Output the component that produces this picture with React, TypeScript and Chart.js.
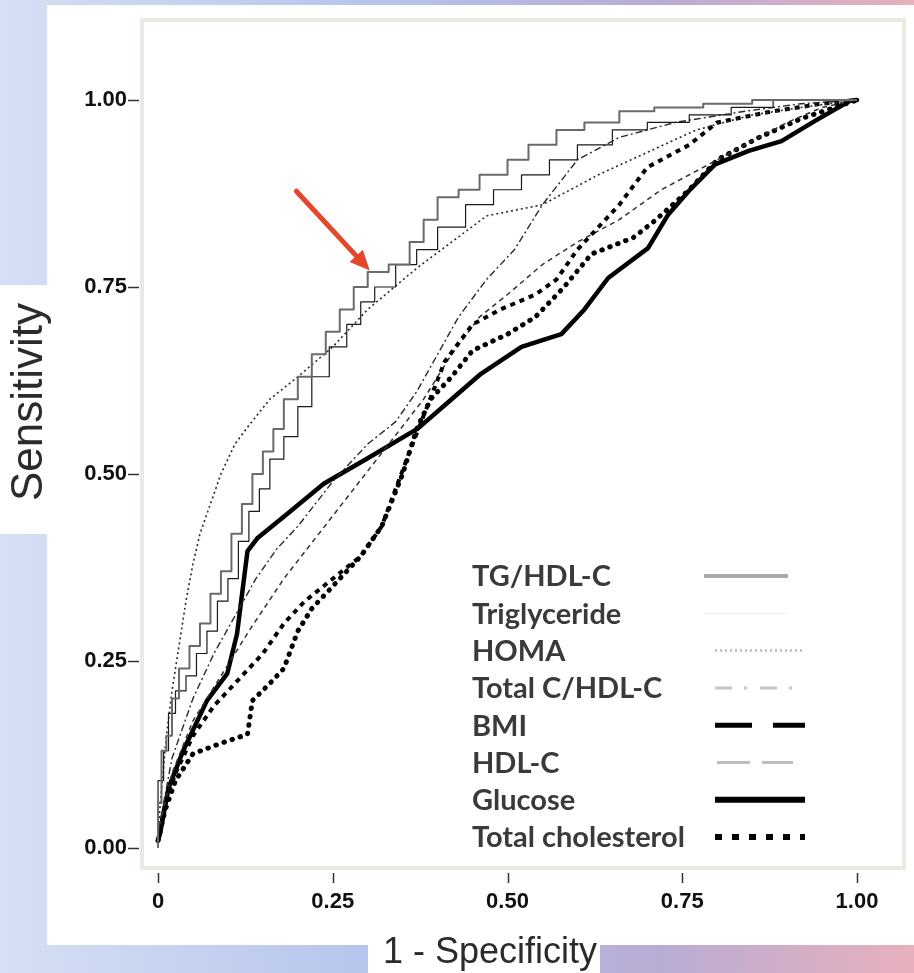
import React, { useEffect, useRef } from "react";
import { Chart, registerables } from "chart.js";

Chart.register(...registerables);

const seriesNames = [
  "TG/HDL-C",
  "Triglyceride",
  "HOMA",
  "Total C/HDL-C",
  "BMI",
  "HDL-C",
  "Glucose",
  "Total cholesterol",
];

const tgHdlFpr = [0, 0.005, 0.012, 0.02, 0.03, 0.045, 0.06, 0.075, 0.09, 0.105, 0.12, 0.135, 0.15, 0.165, 0.18, 0.2, 0.22, 0.24, 0.26, 0.28, 0.3, 0.33, 0.36, 0.38, 0.4, 0.43, 0.46, 0.5, 0.53, 0.57, 0.61, 0.66, 0.71, 0.78, 0.85, 0.92, 1];
const tgHdlSens = [0, 0.06, 0.13, 0.15, 0.2, 0.24, 0.27, 0.3, 0.34, 0.37, 0.42, 0.46, 0.5, 0.53, 0.56, 0.6, 0.63, 0.66, 0.69, 0.72, 0.75, 0.77, 0.78, 0.81, 0.84, 0.87, 0.88, 0.9, 0.92, 0.94, 0.96, 0.97, 0.985, 0.99, 0.995, 1, 1];

const trigFpr = [0, 0.008, 0.015, 0.025, 0.04, 0.055, 0.07, 0.085, 0.1, 0.115, 0.13, 0.145, 0.16, 0.18, 0.2, 0.22, 0.245, 0.27, 0.29, 0.31, 0.34, 0.37, 0.4, 0.44, 0.48, 0.52, 0.56, 0.6, 0.65, 0.7, 0.76, 0.82, 0.88, 0.94, 1];
const trigSens = [0, 0.09, 0.13, 0.18, 0.21, 0.23, 0.26, 0.29, 0.33, 0.36, 0.41, 0.45, 0.48, 0.52, 0.55, 0.59, 0.63, 0.67, 0.7, 0.73, 0.75, 0.78, 0.8, 0.83, 0.86, 0.88, 0.9, 0.92, 0.94, 0.96, 0.97, 0.98, 0.99, 1, 1];

const homaFpr = [0, 0.005, 0.012, 0.02, 0.03, 0.04, 0.05, 0.06, 0.075, 0.09, 0.11, 0.13, 0.16, 0.2, 0.25, 0.3, 0.37, 0.42, 0.47, 0.55, 0.63, 0.7, 0.77, 0.85, 0.92, 1];
const homaSens = [0.02, 0.08, 0.15, 0.21, 0.27, 0.33, 0.38, 0.42, 0.46, 0.5, 0.54, 0.565, 0.6, 0.63, 0.67, 0.72, 0.775, 0.81, 0.845, 0.86, 0.9, 0.93, 0.96, 0.98, 0.99, 1];

const tcHdlFpr = [0, 0.02, 0.05, 0.08, 0.11, 0.14, 0.17, 0.2, 0.25, 0.3, 0.34, 0.37, 0.4, 0.43, 0.47, 0.51, 0.55, 0.6, 0.66, 0.74, 0.84, 0.92, 1];
const tcHdlSens = [0.02, 0.12, 0.2, 0.26, 0.31, 0.36, 0.4, 0.43, 0.49, 0.54, 0.57, 0.61, 0.66, 0.71, 0.76, 0.8, 0.86, 0.92, 0.95, 0.97, 0.985, 0.995, 1];

const bmiFpr = [0, 0.01, 0.025, 0.05, 0.08, 0.11, 0.15, 0.18, 0.21, 0.25, 0.29, 0.32, 0.34, 0.36, 0.385, 0.41, 0.45, 0.49, 0.54, 0.57, 0.6, 0.62, 0.66, 0.7, 0.76, 0.8, 0.88, 0.95, 1];
const bmiSens = [0.01, 0.06, 0.1, 0.15, 0.19, 0.22, 0.26, 0.3, 0.33, 0.36, 0.39, 0.43, 0.48, 0.53, 0.59, 0.65, 0.7, 0.72, 0.74, 0.76, 0.8, 0.82, 0.86, 0.91, 0.94, 0.97, 0.985, 0.995, 1];

const hdlFpr = [0, 0.02, 0.05, 0.09, 0.13, 0.18, 0.23, 0.28, 0.33, 0.38, 0.42, 0.46, 0.5, 0.55, 0.6, 0.66, 0.72, 0.78, 0.84, 0.9, 0.95, 1];
const hdlSens = [0.02, 0.1, 0.17, 0.23, 0.29, 0.36, 0.42, 0.48, 0.54, 0.6, 0.66, 0.71, 0.74, 0.78, 0.81, 0.84, 0.88, 0.91, 0.94, 0.97, 0.99, 1];

const glucoseFpr = [0, 0.003, 0.015, 0.036, 0.07, 0.099, 0.113, 0.128, 0.142, 0.189, 0.237, 0.3, 0.372, 0.42, 0.462, 0.52, 0.577, 0.61, 0.644, 0.701, 0.73, 0.759, 0.797, 0.845, 0.892, 0.94, 0.99, 1];
const glucoseSens = [0.01, 0.02, 0.08, 0.13, 0.197, 0.233, 0.286, 0.397, 0.414, 0.45, 0.487, 0.521, 0.561, 0.6, 0.634, 0.67, 0.687, 0.72, 0.762, 0.802, 0.847, 0.878, 0.914, 0.932, 0.945, 0.972, 0.999, 1];

const totalCholFpr = [0, 0.01, 0.025, 0.05, 0.09, 0.128, 0.135, 0.16, 0.18, 0.2, 0.22, 0.25, 0.29, 0.32, 0.35, 0.37, 0.39, 0.42, 0.45, 0.5, 0.54, 0.58, 0.62, 0.68, 0.71, 0.76, 0.8, 0.86, 0.92, 1];
const totalCholSens = [0.01, 0.05, 0.09, 0.126, 0.14, 0.152, 0.197, 0.22, 0.24, 0.29, 0.32, 0.35, 0.39, 0.43, 0.5, 0.56, 0.6, 0.63, 0.665, 0.687, 0.71, 0.749, 0.794, 0.816, 0.838, 0.88, 0.92, 0.95, 0.975, 1];

const xTickValues = [0, 0.25, 0.5, 0.75, 1];
const xTickLabels = ["0", "0.25", "0.50", "0.75", "1.00"];
const yTickValues = [0, 0.25, 0.5, 0.75, 1];
const yTickLabels = ["0.00", "0.25", "0.50", "0.75", "1.00"];
const xTitle = "1 - Specificity";
const yTitle = "Sensitivity";
const arrowTail = { x: 0.198, y: 0.878 };
const arrowHead = { x: 0.303, y: 0.772 };

const seriesData = [
  [tgHdlFpr, tgHdlSens],
  [trigFpr, trigSens],
  [homaFpr, homaSens],
  [tcHdlFpr, tcHdlSens],
  [bmiFpr, bmiSens],
  [hdlFpr, hdlSens],
  [glucoseFpr, glucoseSens],
  [totalCholFpr, totalCholSens],
];

const seriesStyles = [
  { color: "#6a6a6a", width: 2, dash: [] as number[], stepped: true, cap: "butt" },
  { color: "#1a1a1a", width: 1.2, dash: [] as number[], stepped: true, cap: "butt" },
  { color: "#2a2a2a", width: 1.6, dash: [2, 3], stepped: false, cap: "butt" },
  { color: "#2a2a2a", width: 1.4, dash: [7, 3, 2, 3], stepped: false, cap: "butt" },
  { color: "#000000", width: 4, dash: [5, 5], stepped: false, cap: "butt" },
  { color: "#333333", width: 1.5, dash: [5, 4], stepped: false, cap: "butt" },
  { color: "#000000", width: 4.5, dash: [] as number[], stepped: false, cap: "round" },
  { color: "#000000", width: 5, dash: [0.5, 8], stepped: false, cap: "round" },
];

const legendSamples = [
  { color: "#a9a9a9", width: 4, dash: [] as number[], x0: 704, x1: 788 },
  { color: "#f3f3f3", width: 2, dash: [] as number[], x0: 704, x1: 788 },
  { color: "#c4c4c4", width: 3, dash: [2, 3], x0: 715, x1: 803 },
  { color: "#c4c4c4", width: 3, dash: [17, 12, 3, 13], x0: 715, x1: 803 },
  { color: "#000000", width: 5, dash: [37, 21], x0: 715, x1: 805 },
  { color: "#bdbdbd", width: 3, dash: [33, 12], x0: 717, x1: 793 },
  { color: "#000000", width: 6, dash: [] as number[], x0: 715, x1: 805 },
  { color: "#000000", width: 6, dash: [7, 10], x0: 715, x1: 805 },
];

const backgroundPlugin = {
  id: "bgPanels",
  beforeDraw(chart: any) {
    const { ctx, width, height, chartArea } = chart;
    ctx.save();
    const g = ctx.createLinearGradient(0, 0, width, 0);
    g.addColorStop(0, "#d6dff3");
    g.addColorStop(0.4, "#b6c5ec");
    g.addColorStop(0.72, "#b8acd4");
    g.addColorStop(1, "#e8b0bc");
    ctx.fillStyle = g;
    ctx.fillRect(0, 0, width, height);
    ctx.fillStyle = "#ffffff";
    ctx.fillRect(47, 5, width - 47, 940);
    ctx.fillRect(0, 285, 48, 249);
    ctx.fillRect(368, 940, 232, height - 940);
    const w = chartArea.right - chartArea.left;
    const h = chartArea.bottom - chartArea.top;
    ctx.strokeStyle = "#ece9e1";
    ctx.lineWidth = 4;
    ctx.strokeRect(chartArea.left - 1, chartArea.top - 1, w + 2, h + 2);
    ctx.restore();
  },
  afterDraw(chart: any) {
    const { ctx, chartArea } = chart;
    const xs = chart.scales.x;
    const ys = chart.scales.y;
    ctx.save();
    ctx.strokeStyle = "#333";
    ctx.lineWidth = 1.5;
    ctx.beginPath();
    yTickValues.forEach((v) => {
      const py = Math.round(ys.getPixelForValue(v)) + 0.5;
      ctx.moveTo(chartArea.left - 15, py);
      ctx.lineTo(chartArea.left - 4, py);
    });
    xTickValues.forEach((v) => {
      const px = Math.round(xs.getPixelForValue(v)) + 0.5;
      ctx.moveTo(px, chartArea.bottom + 6);
      ctx.lineTo(px, chartArea.bottom + 16);
    });
    ctx.stroke();

    // axis titles
    ctx.fillStyle = "#2b2b2b";
    ctx.textAlign = "center";
    ctx.textBaseline = "middle";
    ctx.font = "36px 'Liberation Sans'";
    ctx.fillText(xTitle, 490, 953);
    ctx.save();
    ctx.translate(30, 402);
    ctx.rotate(-Math.PI / 2);
    ctx.font = "44px 'Liberation Sans'";
    ctx.fillText(yTitle, 0, 0);
    ctx.restore();

    // arrow
    const x0 = xs.getPixelForValue(arrowTail.x);
    const y0 = ys.getPixelForValue(arrowTail.y);
    const x1 = xs.getPixelForValue(arrowHead.x);
    const y1 = ys.getPixelForValue(arrowHead.y);
    const ang = Math.atan2(y1 - y0, x1 - x0);
    const hl = 20;
    const hw = 9;
    const bx = x1 - hl * Math.cos(ang);
    const by = y1 - hl * Math.sin(ang);
    ctx.strokeStyle = "#e4472a";
    ctx.fillStyle = "#e4472a";
    ctx.lineWidth = 5;
    ctx.lineCap = "round";
    ctx.beginPath();
    ctx.moveTo(x0, y0);
    ctx.lineTo(bx, by);
    ctx.stroke();
    ctx.beginPath();
    ctx.moveTo(x1, y1);
    ctx.lineTo(bx + hw * Math.sin(ang), by - hw * Math.cos(ang));
    ctx.lineTo(bx - hw * Math.sin(ang), by + hw * Math.cos(ang));
    ctx.closePath();
    ctx.fill();

    // legend
    const legendLeft = 472;
    const legendTop = 577;
    const legendStep = 37.3;
    ctx.lineCap = "butt";
    seriesNames.forEach((name, i) => {
      const cy = legendTop + i * legendStep;
      ctx.font = "bold 29px Lato";
      ctx.fillStyle = "#3a3a3a";
      ctx.textAlign = "left";
      ctx.textBaseline = "middle";
      ctx.fillText(name, legendLeft, cy);
      const s = legendSamples[i];
      ctx.strokeStyle = s.color;
      ctx.lineWidth = s.width;
      ctx.setLineDash(s.dash);
      ctx.beginPath();
      ctx.moveTo(s.x0, cy - 1);
      ctx.lineTo(s.x1, cy - 1);
      ctx.stroke();
      ctx.setLineDash([]);
    });
    ctx.restore();
  },
};

export default function App() {
  const canvasRef = useRef<HTMLCanvasElement | null>(null);

  useEffect(() => {
    document.body.style.margin = "0";
    const canvas = canvasRef.current;
    if (!canvas) return;
    const datasets = seriesData.map(([fpr, sens], i) => {
      const st = seriesStyles[i];
      return {
        label: seriesNames[i],
        data: fpr.map((x, j) => ({ x, y: sens[j] })),
        borderColor: st.color,
        backgroundColor: st.color,
        borderWidth: st.width,
        borderDash: st.dash,
        borderCapStyle: st.cap as any,
        borderJoinStyle: "round" as any,
        stepped: st.stepped ? ("after" as any) : false,
        pointRadius: 0,
        tension: 0,
        fill: false,
      };
    });
    const chart = new Chart(canvas, {
      type: "line",
      data: { datasets },
      options: {
        responsive: false,
        animation: false,
        devicePixelRatio: 1,
        layout: { padding: { left: 0, right: 11, top: 21, bottom: 0 } },
        plugins: { legend: { display: false }, tooltip: { enabled: false } },
        scales: {
          x: {
            type: "linear",
            min: -0.0215,
            max: 1.0658,
            grid: { display: false, drawTicks: false },
            border: { display: false },
            afterBuildTicks: (s: any) => {
              s.ticks = xTickValues.map((v) => ({ value: v }));
            },
            afterFit: (s: any) => {
              s.height = 106;
              s.paddingLeft = 0;
              s.paddingRight = 0;
            },
            ticks: {
              padding: 22,
              color: "#111",
              autoSkip: false,
              maxRotation: 0,
              font: { family: "Liberation Sans", weight: "bold", size: 22 },
              callback: (v: any) => {
                const k = xTickValues.indexOf(Number(v));
                return k >= 0 ? xTickLabels[k] : "";
              },
            },
            title: { display: false, text: xTitle },
          },
          y: {
            type: "linear",
            min: -0.0254,
            max: 1.1056,
            grid: { display: false, drawTicks: false },
            border: { display: false },
            afterBuildTicks: (s: any) => {
              s.ticks = yTickValues.map((v) => ({ value: v }));
            },
            afterFit: (s: any) => {
              s.width = 143;
              s.paddingTop = 0;
              s.paddingBottom = 0;
            },
            ticks: {
              padding: 16,
              color: "#111",
              autoSkip: false,
              font: { family: "Liberation Sans", weight: "bold", size: 22 },
              callback: (v: any) => {
                const k = yTickValues.indexOf(Number(v));
                return k >= 0 ? yTickLabels[k] : "";
              },
            },
            title: { display: false, text: yTitle },
          },
        },
      },
      plugins: [backgroundPlugin],
    });
    return () => chart.destroy();
  }, []);

  return (
    <div style={{ width: 914, height: 973, position: "relative" }}>
      <canvas ref={canvasRef} width={914} height={973} style={{ display: "block" }} />
    </div>
  );
}
